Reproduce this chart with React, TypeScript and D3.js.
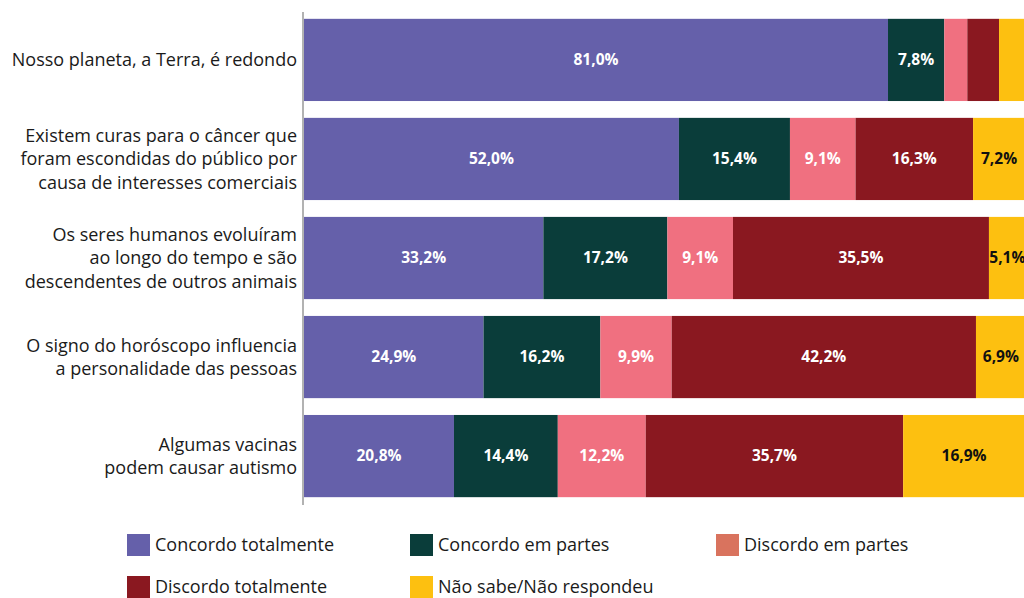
import React from "react";
import * as d3 from "d3";

const categories: string[][] = [
  ["Nosso planeta, a Terra, é redondo"],
  ["Existem curas para o câncer que", "foram escondidas do público por", "causa de interesses comerciais"],
  ["Os seres humanos evoluíram", "ao longo do tempo e são", "descendentes de outros animais"],
  ["O signo do horóscopo influencia", "a personalidade das pessoas"],
  ["Algumas vacinas", "podem causar autismo"],
];

const seriesNames = [
  "Concordo totalmente",
  "Concordo em partes",
  "Discordo em partes",
  "Discordo totalmente",
  "Não sabe/Não respondeu",
];

const concordoTotalmente = [81.0, 52.0, 33.2, 24.9, 20.8];
const concordoEmPartes = [7.8, 15.4, 17.2, 16.2, 14.4];
const discordoEmPartes = [3.2, 9.1, 9.1, 9.9, 12.2];
const discordoTotalmente = [4.4, 16.3, 35.5, 42.2, 35.7];
const naoSabe = [3.6, 7.2, 5.1, 6.9, 16.9];

const seriesValues = [concordoTotalmente, concordoEmPartes, discordoEmPartes, discordoTotalmente, naoSabe];
const barColors = ["#6560aa", "#0a3d3a", "#f07080", "#8a1820", "#fdc010"];
const legendColors = ["#6560aa", "#0a3d3a", "#d9735e", "#8a1820", "#fdc010"];
const labelColors = ["#ffffff", "#ffffff", "#ffffff", "#ffffff", "#111111"];

const W = 1024;
const H = 598;
const FONT = "'Open Sans', Lato, sans-serif";

export default function App() {
  const x = d3.scaleLinear().domain([0, 100]).range([304, 1025]);
  const y = d3
    .scaleBand<number>()
    .domain(d3.range(categories.length))
    .range([1, 515])
    .paddingInner(0.17)
    .paddingOuter(0.18);

  const fmt = (v: number) => v.toFixed(1).replace(".", ",") + "%";

  const legendItems = [
    { i: 0, x: 127, y: 534 },
    { i: 1, x: 410, y: 534 },
    { i: 2, x: 716, y: 534 },
    { i: 3, x: 127, y: 576 },
    { i: 4, x: 410, y: 576 },
  ];

  return (
    <svg
      width={W}
      height={H}
      style={{ position: "absolute", left: 0, top: 0, background: "#fff" }}
      fontFamily={FONT}
    >
      {categories.map((_, ci) => {
        let acc = 0;
        return (
          <g key={ci}>
            {seriesValues.map((vals, si) => {
              const v = vals[ci];
              const x0 = x(acc);
              acc += v;
              const x1 = x(acc);
              const by = y(ci)!;
              const bh = y.bandwidth();
              return (
                <g key={si}>
                  <rect x={x0} y={by} width={Math.max(0, x1 - x0)} height={bh} fill={barColors[si]} />
                  {v >= 5 && (
                    <text
                      x={(x0 + x1) / 2}
                      y={by + bh / 2}
                      dy="0.35em"
                      textAnchor="middle"
                      fontSize={15.5}
                      fontWeight={700}
                      fill={labelColors[si]}
                    >
                      {fmt(v)}
                    </text>
                  )}
                </g>
              );
            })}
          </g>
        );
      })}

      {categories.map((lines, ci) => {
        const cy = y(ci)! + y.bandwidth() / 2;
        const lh = 23.5;
        const start = cy - ((lines.length - 1) * lh) / 2;
        return (
          <text key={ci} textAnchor="end" fontSize={18} fill="#1a1a1a">
            {lines.map((l, li) => (
              <tspan key={li} x={297} y={start + li * lh} dy="0.35em">
                {l}
              </tspan>
            ))}
          </text>
        );
      })}

      <line x1={303} x2={303} y1={12} y2={505} stroke="#999" strokeWidth={1.5} />

      {legendItems.map((it) => (
        <g key={it.i}>
          <rect x={it.x} y={it.y} width={23} height={22} fill={legendColors[it.i]} />
          <text x={it.x + 28} y={it.y + 11} dy="0.35em" fontSize={18} fill="#1a1a1a">
            {seriesNames[it.i]}
          </text>
        </g>
      ))}
    </svg>
  );
}
